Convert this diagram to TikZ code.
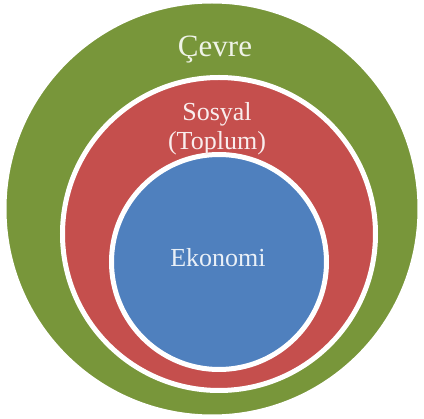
\documentclass[tikz,border=0pt]{standalone}
\usepackage{fontspec}
\setmainfont{Liberation Serif}
\definecolor{cevreGreen}{RGB}{120,150,58}
\definecolor{sosyalRed}{RGB}{197,79,77}
\definecolor{ekonomiBlue}{RGB}{79,128,190}
\tikzset{ring/.style={circle, draw=white, inner sep=0pt, outer sep=0pt},
         label/.style={font=\fontsize{#1}{#1}\selectfont, align=center},
         label/.default={26}}

\begin{document}
\begin{tikzpicture}[x=1pt, y=-1pt]
        \useasboundingbox (0,0) rectangle (424,419);

        % Nested circles
        \node[ring, line width=3pt, fill=cevreGreen, minimum size=414pt] (cevre) at (212,209) {};
        \node[ring, line width=5pt, fill=sosyalRed, minimum size=313pt] (sosyal) at (219,234) {};
        \node[ring, line width=5pt, fill=ekonomiBlue, minimum size=215pt] (ekonomi) at (219,262) {};

        % Labels
        \node[label=31, text=white!88!cevreGreen] (cevreText) at (215,50) {Çevre};
        \node[label=26, text=white!90!sosyalRed] (sosyalText) at (217,129) {Sosyal\\[3pt](Toplum)};
        \node[label=26, text=white!88!ekonomiBlue] (ekonomiText) at (218,258) {Ekonomi};

    \end{tikzpicture}
\end{document}
